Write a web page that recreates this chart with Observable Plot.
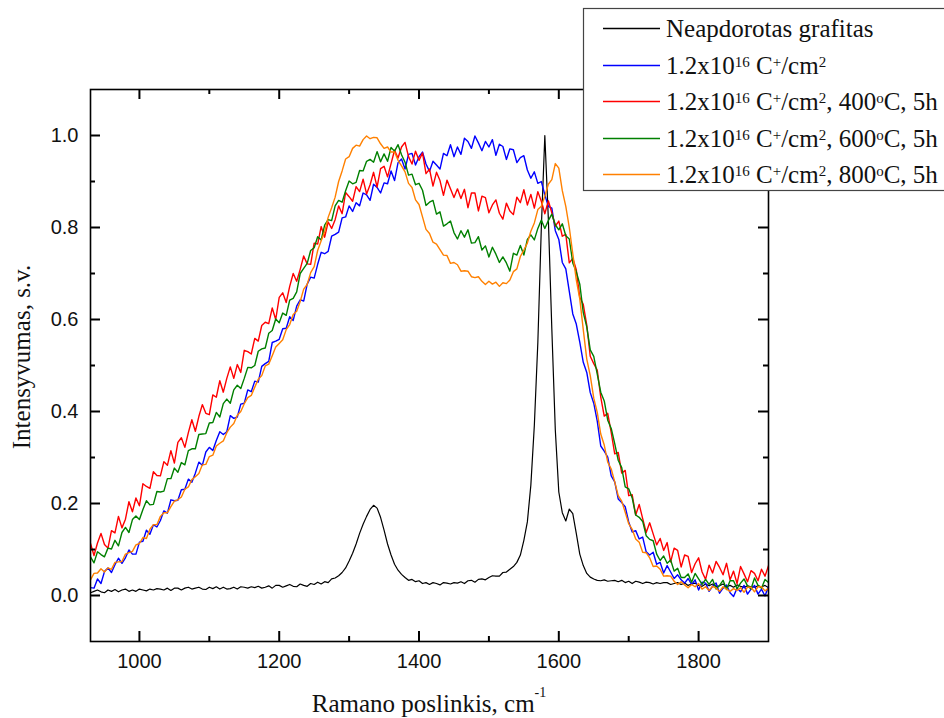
<!DOCTYPE html>
<html>
<head>
<meta charset="utf-8">
<script src="https://cdn.jsdelivr.net/npm/d3@7"></script>
<script src="https://cdn.jsdelivr.net/npm/@observablehq/plot@0.6"></script>
<style>
  html, body { margin: 0; padding: 0; background: white; }
  #chart { width: 944px; height: 718px; overflow: hidden; }
</style>
</head>
<body>
<div id="chart"></div>
<script>
// Raman shift grid: 930 ... 1900 cm^-1, every 5 cm^-1 (195 points)
const ramanShift = d3.range(930, 1901, 5);

// Neapdorotas grafitas (black)
const graphite = [
  0.006,0.009,0.012,0.008,0.006,0.012,0.009,0.013,0.008,0.012,
  0.014,0.009,0.012,0.009,0.014,0.012,0.01,0.014,0.012,0.015,
  0.014,0.012,0.016,0.011,0.016,0.016,0.012,0.016,0.018,0.014,
  0.016,0.018,0.014,0.013,0.018,0.015,0.019,0.014,0.018,0.014,
  0.015,0.018,0.014,0.019,0.018,0.016,0.019,0.017,0.02,0.016,
  0.018,0.021,0.016,0.022,0.022,0.018,0.021,0.024,0.02,0.019,
  0.025,0.022,0.02,0.026,0.024,0.029,0.025,0.03,0.028,0.036,
  0.038,0.043,0.05,0.06,0.075,0.092,0.112,0.135,0.155,0.172,
  0.187,0.196,0.19,0.17,0.142,0.112,0.088,0.068,0.055,0.046,
  0.039,0.033,0.035,0.03,0.032,0.026,0.028,0.024,0.028,0.026,
  0.023,0.028,0.027,0.025,0.028,0.027,0.03,0.026,0.032,0.033,
  0.029,0.035,0.036,0.034,0.039,0.043,0.042,0.042,0.05,0.051,
  0.057,0.063,0.072,0.088,0.12,0.16,0.24,0.37,0.55,0.8,
  1.0,0.82,0.58,0.36,0.225,0.18,0.162,0.188,0.178,0.135,
  0.09,0.065,0.048,0.04,0.036,0.033,0.032,0.034,0.031,0.032,
  0.033,0.03,0.033,0.028,0.031,0.026,0.031,0.029,0.026,0.029,
  0.028,0.025,0.028,0.026,0.028,0.028,0.024,0.026,0.028,0.024,
  0.027,0.022,0.025,0.027,0.022,0.02,0.025,0.021,0.025,0.02,
  0.021,0.025,0.019,0.022,0.018,0.023,0.02,0.018,0.021,0.019,
  0.018,0.021,0.019,0.022,0.017
];

// 1.2x10^16 C+/cm2 (blue)
const implanted = [
  0.017,0.016,0.036,0.026,0.052,0.06,0.05,0.067,0.081,0.07,
  0.082,0.099,0.09,0.09,0.116,0.118,0.142,0.133,0.154,0.149,
  0.163,0.184,0.179,0.208,0.206,0.207,0.23,0.231,0.253,0.246,
  0.266,0.29,0.283,0.312,0.322,0.315,0.337,0.356,0.35,0.356,
  0.391,0.385,0.388,0.416,0.418,0.447,0.443,0.466,0.464,0.498,
  0.504,0.509,0.55,0.553,0.557,0.58,0.581,0.606,0.598,0.629,
  0.643,0.64,0.677,0.692,0.69,0.72,0.746,0.743,0.748,0.781,
  0.785,0.79,0.821,0.823,0.847,0.835,0.854,0.847,0.875,0.871,
  0.859,0.894,0.887,0.875,0.897,0.895,0.923,0.902,0.941,0.949,
  0.927,0.959,0.961,0.936,0.954,0.964,0.938,0.922,0.944,0.936,
  0.927,0.961,0.956,0.98,0.954,0.975,0.959,0.994,0.987,0.972,
  0.999,0.984,0.967,0.987,0.975,0.991,0.957,0.981,0.976,0.948,
  0.971,0.969,0.941,0.952,0.956,0.925,0.907,0.921,0.896,0.9,
  0.871,0.846,0.842,0.793,0.774,0.724,0.71,0.661,0.612,0.59,
  0.551,0.507,0.485,0.441,0.418,0.379,0.325,0.314,0.301,0.26,
  0.247,0.21,0.202,0.193,0.16,0.138,0.141,0.123,0.127,0.095,
  0.088,0.094,0.068,0.072,0.049,0.065,0.051,0.037,0.045,0.034,
  0.027,0.037,0.024,0.034,0.012,0.029,0.027,0.009,0.02,0.027,
  0.005,0.016,0.023,0.006,-0.002,0.016,0.008,0.022,0.003,0.014,
  0.022,0.003,0.014,-0.001,0.02
];

// 1.2x10^16 C+/cm2, 400°C, 5h (red)
const anneal400 = [
  0.113,0.087,0.114,0.135,0.111,0.103,0.141,0.136,0.172,0.147,
  0.166,0.204,0.182,0.212,0.195,0.243,0.237,0.233,0.269,0.261,
  0.26,0.291,0.283,0.315,0.288,0.333,0.343,0.322,0.354,0.382,
  0.357,0.389,0.415,0.396,0.393,0.436,0.431,0.467,0.442,0.472,
  0.497,0.472,0.502,0.485,0.533,0.53,0.525,0.559,0.553,0.587,
  0.594,0.591,0.625,0.6,0.648,0.658,0.637,0.672,0.7,0.683,
  0.709,0.738,0.721,0.72,0.766,0.764,0.802,0.779,0.812,0.798,
  0.817,0.847,0.83,0.876,0.867,0.857,0.889,0.878,0.905,0.873,
  0.893,0.92,0.888,0.928,0.933,0.91,0.939,0.968,0.951,0.975,
  0.985,0.954,0.938,0.966,0.946,0.962,0.917,0.927,0.89,0.92,
  0.902,0.87,0.903,0.884,0.865,0.884,0.863,0.883,0.843,0.875,
  0.875,0.836,0.868,0.865,0.832,0.849,0.86,0.831,0.818,0.853,
  0.836,0.828,0.866,0.854,0.882,0.849,0.872,0.842,0.878,0.857,
  0.83,0.858,0.832,0.803,0.814,0.781,0.785,0.723,0.733,0.708,
  0.648,0.633,0.588,0.52,0.504,0.49,0.431,0.39,0.396,0.354,
  0.308,0.311,0.266,0.272,0.217,0.219,0.175,0.198,0.167,0.137,
  0.158,0.134,0.11,0.124,0.098,0.115,0.073,0.103,0.098,0.062,
  0.088,0.085,0.05,0.069,0.082,0.051,0.035,0.066,0.049,0.074,
  0.061,0.045,0.07,0.034,0.053,0.026,0.063,0.047,0.03,0.054,
  0.048,0.032,0.057,0.042,0.065
];

// 1.2x10^16 C+/cm2, 600°C, 5h (green)
const anneal600 = [
  0.084,0.071,0.095,0.089,0.084,0.103,0.101,0.12,0.108,0.137,
  0.148,0.137,0.165,0.173,0.165,0.187,0.206,0.197,0.198,0.226,
  0.225,0.227,0.254,0.254,0.277,0.268,0.289,0.284,0.315,0.319,
  0.319,0.35,0.351,0.352,0.375,0.376,0.398,0.388,0.417,0.427,
  0.418,0.447,0.457,0.45,0.472,0.496,0.495,0.5,0.531,0.536,
  0.538,0.57,0.576,0.601,0.593,0.614,0.609,0.642,0.646,0.66,
  0.7,0.711,0.722,0.75,0.756,0.78,0.773,0.805,0.817,0.815,
  0.847,0.859,0.855,0.88,0.901,0.895,0.898,0.924,0.923,0.944,
  0.948,0.942,0.965,0.943,0.96,0.944,0.974,0.966,0.98,0.958,
  0.942,0.914,0.916,0.893,0.896,0.881,0.848,0.855,0.859,0.829,
  0.834,0.803,0.808,0.814,0.789,0.775,0.793,0.779,0.795,0.766,
  0.767,0.78,0.751,0.76,0.736,0.757,0.742,0.724,0.736,0.723,
  0.705,0.744,0.74,0.761,0.74,0.774,0.784,0.773,0.798,0.816,
  0.798,0.815,0.829,0.806,0.795,0.808,0.782,0.775,0.723,0.704,
  0.677,0.615,0.584,0.534,0.52,0.481,0.442,0.423,0.381,0.363,
  0.33,0.294,0.278,0.236,0.232,0.212,0.175,0.17,0.161,0.13,
  0.122,0.119,0.09,0.076,0.086,0.07,0.077,0.053,0.059,0.039,
  0.039,0.047,0.029,0.048,0.036,0.024,0.035,0.024,0.035,0.014,
  0.022,0.033,0.013,0.032,0.032,0.015,0.027,0.036,0.021,0.014,
  0.038,0.022,0.016,0.035,0.028
];

// 1.2x10^16 C+/cm2, 800°C, 5h (orange)
const anneal800 = [
  0.034,0.048,0.049,0.058,0.051,0.06,0.057,0.072,0.073,0.074,
  0.09,0.093,0.096,0.11,0.113,0.126,0.124,0.144,0.154,0.154,
  0.172,0.18,0.18,0.193,0.205,0.208,0.214,0.231,0.236,0.252,
  0.258,0.265,0.284,0.285,0.302,0.305,0.325,0.331,0.336,0.354,
  0.366,0.374,0.392,0.4,0.417,0.43,0.435,0.453,0.47,0.478,
  0.499,0.503,0.521,0.54,0.548,0.556,0.578,0.589,0.611,0.618,
  0.639,0.666,0.676,0.702,0.715,0.75,0.771,0.791,0.822,0.843,
  0.866,0.9,0.923,0.949,0.954,0.972,0.979,0.977,0.991,0.999,
  0.993,0.996,0.995,0.982,0.972,0.975,0.964,0.964,0.946,0.934,
  0.921,0.896,0.887,0.86,0.85,0.823,0.796,0.787,0.768,0.764,
  0.752,0.74,0.739,0.722,0.724,0.719,0.705,0.706,0.705,0.693,
  0.691,0.693,0.683,0.676,0.683,0.677,0.681,0.672,0.68,0.678,
  0.686,0.704,0.71,0.737,0.751,0.766,0.792,0.81,0.839,0.846,
  0.868,0.894,0.904,0.939,0.929,0.88,0.846,0.8,0.743,0.686,
  0.645,0.578,0.514,0.478,0.429,0.398,0.351,0.327,0.29,0.275,
  0.247,0.217,0.205,0.181,0.156,0.144,0.123,0.116,0.094,0.093,
  0.082,0.063,0.064,0.057,0.042,0.043,0.042,0.031,0.024,0.03,
  0.023,0.017,0.024,0.019,0.026,0.014,0.019,0.011,0.02,0.016,
  0.009,0.019,0.014,0.009,0.015,0.011,0.017,0.007,0.018,0.018,
  0.008,0.019,0.019,0.01,0.016
];

const seriesColors = ["#000000", "#0000ff", "#ff0000", "#008000", "#ff8000"];
const seriesValues = [graphite, implanted, anneal400, anneal600, anneal800];
// legend labels: [text, isSuperscript]
const seriesLabels = [
  [["Neapdorotas grafitas", false]],
  [["1.2x10", false], ["16", true], [" C", false], ["+", true], ["/cm", false], ["2", true]],
  [["1.2x10", false], ["16", true], [" C", false], ["+", true], ["/cm", false], ["2", true], [", 400", false], ["o", true], ["C, 5h", false]],
  [["1.2x10", false], ["16", true], [" C", false], ["+", true], ["/cm", false], ["2", true], [", 600", false], ["o", true], ["C, 5h", false]],
  [["1.2x10", false], ["16", true], [" C", false], ["+", true], ["/cm", false], ["2", true], [", 800", false], ["o", true], ["C, 5h", false]]
];

const xDomain = [930, 1900];
const yDomain = [-0.1, 1.1];
const xMajor = [1000, 1200, 1400, 1600, 1800];
const xMinor = [1100, 1300, 1500, 1700];
const yMajor = [0, 0.2, 0.4, 0.6, 0.8, 1.0];
const yMinor = [0.1, 0.3, 0.5, 0.7, 0.9];
const xTitle = "Ramano poslinkis, cm";
const xTitleSup = "-1";
const yTitle = "Intensyvumas, s.v.";

(function draw() {
  // frame geometry (pixels)
  const W = 944, H = 718, mT = 89, mR = 176, mB = 77, mL = 90;
  const frameW = W - mL - mR, frameH = H - mT - mB;
  const majorLen = 10, minorLen = 5, tickW = 2;
  const xPerPx = (xDomain[1] - xDomain[0]) / frameW;
  const yPerPx = (yDomain[1] - yDomain[0]) / frameH;

  // inward ticks as Plot rules (lengths converted to data units)
  const tickMarks = [];
  [[xMajor, majorLen], [xMinor, minorLen]].forEach(([vals, len]) => {
    tickMarks.push(Plot.ruleX(vals, {x: d => d, y1: yDomain[0], y2: yDomain[0] + len * yPerPx, stroke: "black", strokeWidth: tickW}));
    tickMarks.push(Plot.ruleX(vals, {x: d => d, y1: yDomain[1] - len * yPerPx, y2: yDomain[1], stroke: "black", strokeWidth: tickW}));
  });
  [[yMajor, majorLen], [yMinor, minorLen]].forEach(([vals, len]) => {
    tickMarks.push(Plot.ruleY(vals, {y: d => d, x1: xDomain[0], x2: xDomain[0] + len * xPerPx, stroke: "black", strokeWidth: tickW}));
    tickMarks.push(Plot.ruleY(vals, {y: d => d, x1: xDomain[1] - len * xPerPx, x2: xDomain[1], stroke: "black", strokeWidth: tickW}));
  });

  const plot = Plot.plot({
    width: W,
    height: H,
    marginTop: mT,
    marginRight: mR,
    marginBottom: mB,
    marginLeft: mL,
    style: {fontFamily: "'Liberation Sans', Arial, sans-serif", fontSize: "20px", color: "black", background: "white", overflow: "visible"},
    x: {domain: xDomain},
    y: {domain: yDomain},
    marks: [
      ...seriesValues.map((vals, k) => Plot.line(vals, {
        x: (d, i) => ramanShift[i], y: d => d,
        stroke: seriesColors[k], strokeWidth: k === 0 ? 1.2 : 1.4, clip: true
      })),
      ...tickMarks,
      Plot.frame({stroke: "black", strokeWidth: 1.6}),
      // tick labels
      Plot.axisX(xMajor, {anchor: "bottom", tickSize: 0, tickPadding: 12, label: null, tickFormat: d3.format("d"), fill: "#111"}),
      Plot.axisY(yMajor, {anchor: "left", tickSize: 0, tickPadding: 12, label: null, tickFormat: d3.format(".1f"), fill: "#111"})
    ]
  });

  document.getElementById("chart").appendChild(plot);

  const svg = d3.select(plot);
  const serif = "'Liberation Serif', 'Times New Roman', serif";

  // X title with superscript
  const xt = svg.append("text")
    .attr("x", 429).attr("y", 712)
    .attr("text-anchor", "middle")
    .attr("font-family", serif).attr("font-size", 25).attr("fill", "#111");
  xt.append("tspan").text(xTitle);
  xt.append("tspan").attr("font-size", 14).attr("dy", -15).text(xTitleSup);

  // Y title
  svg.append("text")
    .attr("transform", "translate(30,357) rotate(-90)")
    .attr("text-anchor", "middle")
    .attr("font-family", serif).attr("font-size", 25).attr("fill", "#111")
    .text(yTitle);

  // Legend
  const lg = svg.append("g");
  lg.append("rect")
    .attr("x", 583.5).attr("y", 8.5).attr("width", 420).attr("height", 182)
    .attr("fill", "white").attr("stroke", "#444").attr("stroke-width", 1.2);
  const baselines = [37, 74, 110, 147, 183];
  seriesLabels.forEach((parts, k) => {
    const yb = baselines[k];
    lg.append("line")
      .attr("x1", 603).attr("x2", 660).attr("y1", yb - 8.5).attr("y2", yb - 8.5)
      .attr("stroke", seriesColors[k]).attr("stroke-width", 1.5);
    const t = lg.append("text")
      .attr("x", 666).attr("y", yb)
      .attr("text-anchor", "start")
      .attr("font-family", serif).attr("font-size", 25).attr("fill", "#111");
    let raised = false;
    parts.forEach(([txt, sup]) => {
      const ts = t.append("tspan").text(txt);
      if (sup && !raised) { ts.attr("font-size", 15).attr("dy", -7); raised = true; }
      else if (sup && raised) { ts.attr("font-size", 15); }
      else if (!sup && raised) { ts.attr("dy", 7); raised = false; }
    });
  });
})();
</script>
</body>
</html>
